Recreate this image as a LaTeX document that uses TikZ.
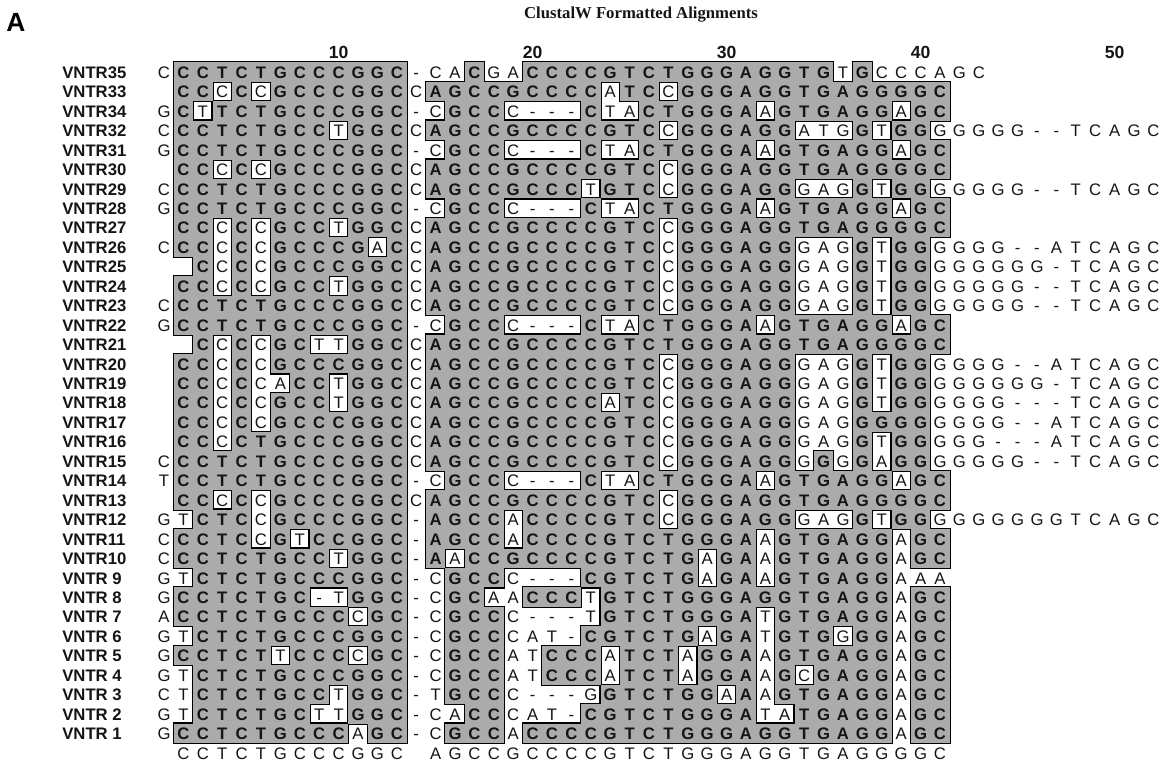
\documentclass[tikz,border=0pt]{standalone}
\usepackage{fontspec}
\setmainfont{Liberation Serif}
\setsansfont{Liberation Sans}
\usetikzlibrary{positioning}
\definecolor{Shade}{HTML}{ABABAB}
\definecolor{Ink}{HTML}{151515}

\newcount\colnum
\newif\ifmatch
\def\rowi{0}
\def\walkchars#1{\ifx#1\relax\else\docell{#1}\advance\colnum by 1 \expandafter\walkchars\fi}
\def\seqline#1#2#3{\def\rowi{#1}\colnum=#2\relax\walkchars#3\relax}
\def\testcell#1{\matchfalse\if#1\csname cons\the\colnum\endcsname\matchtrue\fi}
\def\cellbox{\pgfmathsetmacro\xc{164+(\the\colnum-1)*19.4}\pgfmathsetmacro\yc{72+\rowi*19.45}%
  \pgfmathsetmacro\xa{\xc-9.7}\pgfmathsetmacro\xb{\xc+9.7}\pgfmathsetmacro\ya{\yc-9.73}\pgfmathsetmacro\yb{\yc+9.73}}
\def\setcons#1{\expandafter\def\csname cons\the\colnum\endcsname{#1}}
\def\cellrim#1{\testcell{#1}\ifmatch\cellbox\draw[rim] (\xa,\ya) rectangle (\xb,\yb);\fi}
\def\cellfill#1{\testcell{#1}\ifmatch\cellbox\fill[Shade] (\xa,\ya) rectangle (\xb,\yb);\fi}
\def\cellchar#1{\testcell{#1}\cellbox\edef\cellname{s\rowi-\the\colnum}%
  \ifmatch\node[hit] (\cellname) at (\xc,\yc) {#1};\else\node[miss] (\cellname) at (\xc,\yc) {#1};\fi}
\def\conschar#1{\cellbox\edef\cellname{k\the\colnum}\node[miss] (\cellname) at (\xc,\yc) {#1};}

\def\alnrows{%
\seqline{0}{1}{C CCTCTGCCCGGC -CACGACCCCGTCTGGGAGGTGTGCCCAGC}%
\seqline{1}{2}{CCCCCGCCCGGC CAGCCGCCCCATCCGGGAGGTGAGGGGC}%
\seqline{2}{1}{G CTTCTGCCCGGC -CGCCC---CTACTGGGAAGTGAGGAGC}%
\seqline{3}{1}{C CCTCTGCCTGGC CAGCCGCCCCGTC CGGGAGGATGGTGG GGGGG--TCAGC}%
\seqline{4}{1}{G CCTCTGCCCGGC -CGCCC---CTACTGGGAAGTGAGGAGC}%
\seqline{5}{2}{CCCCCGCCCGGC CAGCCGCCCCGTCCGGGAGGTGAGGGGC}%
\seqline{6}{1}{C CCTCTGCCCGGC CAGCCGCCCTGTC CGGGAGGGAGGTGG GGGGG--TCAGC}%
\seqline{7}{1}{G CCTCTGCCCGGC -CGCCC---CTACTGGGAAGTGAGGAGC}%
\seqline{8}{2}{CCCCCGCCTGGC CAGCCGCCCCGTCCGGGAGGTGAGGGGC}%
\seqline{9}{1}{C CCCCCGCCCGAC CAGCCGCCCCGTC CGGGAGGGAGGTGG GGGG--ATCAGC}%
\seqline{10}{3}{CCCCGCCCGGC CAGCCGCCCCGTC CGGGAGGGAGGTGG GGGGGG-TCAGC}%
\seqline{11}{2}{CCCCCGCCTGGC CAGCCGCCCCGTC CGGGAGGGAGGTGG GGGGG--TCAGC}%
\seqline{12}{1}{C CCTCTGCCCGGC CAGCCGCCCCGTC CGGGAGGGAGGTGG GGGGG--TCAGC}%
\seqline{13}{1}{G CCTCTGCCCGGC -CGCCC---CTACTGGGAAGTGAGGAGC}%
\seqline{14}{3}{CCCCGCTTGGC CAGCCGCCCCGTCTGGGAGGTGAGGGGC}%
\seqline{15}{2}{CCCCCGCCCGGC CAGCCGCCCCGTC CGGGAGGGAGGTGG GGGG--ATCAGC}%
\seqline{16}{2}{CCCCCACCTGGC CAGCCGCCCCGTC CGGGAGGGAGGTGG GGGGGG-TCAGC}%
\seqline{17}{2}{CCCCCGCCTGGC CAGCCGCCCCATC CGGGAGGGAGGTGG GGGG---TCAGC}%
\seqline{18}{2}{CCCCCGCCCGGC CAGCCGCCCCGTC CGGGAGGGAGGGGG GGGG--ATCAGC}%
\seqline{19}{2}{CCCCTGCCCGGC CAGCCGCCCCGTC CGGGAGGGAGGTGG GGG---ATCAGC}%
\seqline{20}{1}{C CCTCTGCCCGGC CAGCCGCCCCGTC CGGGAGGGGGGAGG GGGGG--TCAGC}%
\seqline{21}{1}{T CCTCTGCCCGGC -CGCCC---CTACTGGGAAGTGAGGAGC}%
\seqline{22}{2}{CCCCCGCCCGGC CAGCCGCCCCGTCCGGGAGGTGAGGGGC}%
\seqline{23}{1}{G TCTCCGCCCGGC -AGCCACCCCGTC CGGGAGGGAGGTGG GGGGGGGTCAGC}%
\seqline{24}{1}{C CCTCCGTCCGGC -AGCCACCCCGTCTGGGAAGTGAGGAGC}%
\seqline{25}{1}{C CCTCTGCCTGGC -AACCGCCCCGTCTGAGAAGTGAGGAGC}%
\seqline{26}{1}{G TCTCTGCCCGGC -CGCCC---CGTCTGAGAAGTGAGGAAA}%
\seqline{27}{1}{G CCTCTGC-TGGC -CGCAACCCTGTCTGGGAGGTGAGGAGC}%
\seqline{28}{1}{A CCTCTGCCCCGC -CGCCC---TGTCTGGGATGTGAGGAGC}%
\seqline{29}{1}{G TCTCTGCCCGGC -CGCCCAT-CGTCTGAGATGTGGGGAGC}%
\seqline{30}{1}{G CCTCTTCCCCGC -CGCCATCCCATCTAGGAAGTGAGGAGC}%
\seqline{31}{1}{G TCTCTGCCCGGC -CGCCATCCCATCTAGGAAGCGAGGAGC}%
\seqline{32}{1}{C TCTCTGCCTGGC -TGCCC---GGTCTGGAAAGTGAGGAGC}%
\seqline{33}{1}{G TCTCTGCTTGGC -CACCCAT-CGTCTGGGATATGAGGAGC}%
\seqline{34}{1}{G CCTCTGCCCAGC -CGCCACCCCGTCTGGGAGGTGAGGAGC}%
}

\begin{document}
\begin{tikzpicture}[x=0.02cm,y=-0.02cm,
  hit/.style={font=\sffamily\bfseries\fontsize{9.5}{9.5}\selectfont,text=Ink,inner sep=0pt,text height=0.72em,text depth=0pt},
  miss/.style={hit,font=\sffamily\fontsize{9.5}{9.5}\selectfont},
  rim/.style={draw=black,line width=1.3pt},
  tag/.style={font=\sffamily\bfseries\fontsize{9.5}{9.5}\selectfont,text=Ink,anchor=west,inner sep=0pt,text height=0.72em,text depth=0pt},
  ruler/.style={font=\sffamily\bfseries\fontsize{10}{10}\selectfont,text=Ink,inner sep=0pt}]
\useasboundingbox (0,0) rectangle (1163,761);
\fill[white] (0,0) rectangle (1163,761);
\node[font=\sffamily\bfseries\fontsize{15}{15}\selectfont,inner sep=0pt] (panel) at (16,22) {A};
\node[font=\bfseries\fontsize{9.5}{9.5}\selectfont,text=Ink,inner sep=0pt] (title) at (641,15) {ClustalW Formatted Alignments};
\foreach \n in {10,20,30,40,50}
  \node[ruler] (tick\n) at ({164+(\n-1)*19.4},52) {\n};
\let\docell\setcons
\colnum=2 \walkchars CCTCTGCCCGGC\relax
\colnum=15 \walkchars AGCCGCCCCGTCTGGGAGGTGAGGGGC\relax
\let\docell\cellrim \alnrows
\let\docell\cellfill \alnrows
\let\docell\cellchar \alnrows
\def\rowi{35}\let\docell\conschar
\colnum=2 \walkchars CCTCTGCCCGGC\relax
\colnum=15 \walkchars AGCCGCCCCGTCTGGGAGGTGAGGGGC\relax
\foreach \nm [count=\r from 0] in {VNTR35,VNTR33,VNTR34,VNTR32,VNTR31,VNTR30,VNTR29,VNTR28,VNTR27,VNTR26,VNTR25,VNTR24,VNTR23,VNTR22,VNTR21,VNTR20,VNTR19,VNTR18,VNTR17,VNTR16,VNTR15,VNTR14,VNTR13,VNTR12,VNTR11,VNTR10,VNTR 9,VNTR 8,VNTR 7,VNTR 6,VNTR 5,VNTR 4,VNTR 3,VNTR 2,VNTR 1}
  \node[tag] (lab\r) at (62,{72+\r*19.45}) {\nm};
\end{tikzpicture}
\end{document}
